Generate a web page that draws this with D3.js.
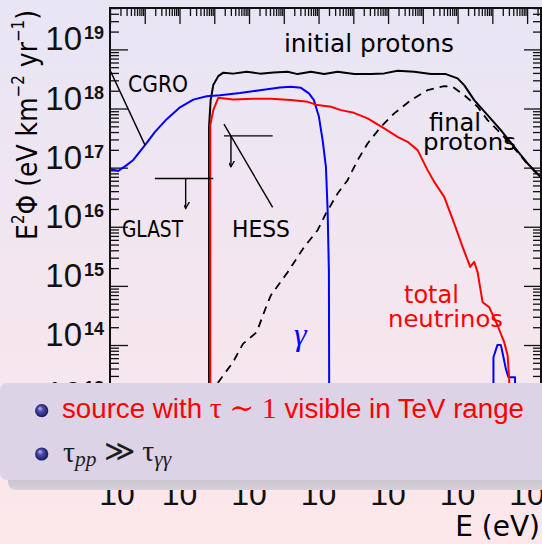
<!DOCTYPE html>
<html><head><meta charset="utf-8">
<script src="https://cdn.jsdelivr.net/npm/d3@7"></script>
<style>html,body{margin:0;padding:0;overflow:hidden;background:#fff}svg{display:block}</style>
</head><body>
<svg id="c" width="542" height="544"></svg>
<script>
// ---------- DATA (log10 E [eV], log10 E^2 Phi [eV km^-2 yr^-1]) ----------
const gammaLogE = [8.000,8.239,8.480,8.670,9.007,9.295,9.631,10.014,10.396,10.782,11.165,11.740,12.315,12.890,13.206,13.493,13.723,13.867,14.011,14.117,14.212,14.261,14.298,14.313];
const gammaLogF = [16.975,16.946,17.042,17.130,17.381,17.606,17.820,18.020,18.150,18.208,18.226,18.262,18.308,18.355,18.367,18.350,18.255,18.142,17.860,17.465,17.014,16.281,15.232,11.500];
const gammaHighLogE = [19.032,19.032,19.147,19.245,19.320,19.389,19.464,19.654,19.654];
const gammaHighLogF = [11.500,13.794,14.002,14.002,13.794,13.596,13.455,13.455,11.500];
const nuLogE = [10.885,10.885,10.971,11.115,11.538,12.113,12.630,13.206,13.686,13.973,14.356,14.644,15.017,15.411,15.889,16.274,16.562,16.850,17.137,17.327,17.615,17.902,18.144,18.363,18.478,18.576,18.719,18.909,19.151,19.341,19.439,19.485,19.520];
const nuLogF = [11.500,17.720,17.973,18.181,18.154,18.164,18.164,18.142,18.113,18.058,18.029,17.973,17.927,17.832,17.663,17.521,17.437,17.296,16.958,16.760,16.506,16.056,15.660,15.322,15.406,15.232,14.724,14.640,14.330,14.047,13.822,13.426,11.500];
const initLogE = [10.850,10.850,10.896,10.971,11.115,11.260,11.546,11.930,12.315,12.700,13.111,13.398,13.781,14.163,14.549,15.026,15.506,15.889,16.274,16.752,17.232,17.663,18.000,18.190,18.478,18.863,19.245,19.628,20.014,20.425];
const initLogF = [11.500,17.690,18.142,18.396,18.548,18.606,18.590,18.620,18.590,18.610,18.621,18.582,18.621,18.582,18.621,18.582,18.582,18.594,18.638,18.621,18.582,18.582,18.509,18.396,18.142,17.888,17.635,17.352,17.071,16.817];
const finalLogE = [10.980,11.115,11.538,11.825,12.219,12.507,12.630,13.111,13.588,13.973,14.212,14.549,14.836,15.124,15.411,15.794,16.177,16.657,17.137,17.615,17.857,18.190,18.576,18.863,19.245,19.628,20.014,20.425];
const finalLogF = [11.700,13.371,13.709,14.019,14.217,14.668,14.843,15.232,15.660,15.942,16.225,16.563,16.788,17.127,17.409,17.690,17.917,18.142,18.311,18.379,18.367,18.227,18.029,17.804,17.579,17.330,17.060,16.810];
// detector limits (log E, log E^2 Phi)
const cgroPointer = [[8.0,18.65],[9.007,17.38]];
const glastLimit = [[9.29,16.817],[10.97,16.817]];
const glastArrow = [[10.177,16.817],[10.177,16.31]];
const hessLimit = [[11.279,17.538],[12.679,17.538]];
const hessArrow = [[11.48,17.538],[11.48,17.014]];
const hessPointer = [[11.279,17.736],[12.679,16.327]];
// tick labels (exponents)
const xTickExps = [8,10,12,14,16,18,20];
const yTickExps = [12,13,14,15,16,17,18,19];
const plotLabels = ["initial protons","CGRO","GLAST","HESS","final","protons","total","neutrinos","γ"];
const bullet1 = ["source with ","τ ∼ 1"," visible in TeV range"];
const zip = (a,b)=>a.map((v,i)=>[v,b[i]]);

// ---------- LAYOUT ----------
const svg = d3.select('#c');
const L=110, R=541, T=8, B=481;
const x = d3.scaleLog().domain([1e8, 10**20.4]).range([L,R]);
const y = d3.scaleLog().domain([10**11.7, 10**19.7]).range([B,T]);
const px = d=>x(10**d[0]), py = d=>y(10**d[1]);
const line = d3.line().x(px).y(py);

const defs = svg.append('defs');
const bg = defs.append('linearGradient').attr('id','bg').attr('x1',0).attr('y1',0).attr('x2',0).attr('y2',1);
bg.append('stop').attr('offset',0).attr('stop-color','#e8e5f5');
bg.append('stop').attr('offset',1).attr('stop-color','#fde7ea');
defs.append('clipPath').attr('id','clip').append('rect').attr('x',L).attr('y',T).attr('width',R-L).attr('height',B-T);
const ball = defs.append('radialGradient').attr('id','ball').attr('cx',.5).attr('cy',.5).attr('r',.55).attr('fx',.35).attr('fy',.3);
ball.append('stop').attr('offset',0).attr('stop-color','#c4c4f4');
ball.append('stop').attr('offset',.35).attr('stop-color','#5050b4');
ball.append('stop').attr('offset',1).attr('stop-color','#12124a');
const sh = defs.append('linearGradient').attr('id','shade').attr('x1',0).attr('y1',0).attr('x2',0).attr('y2',1);
sh.append('stop').attr('offset',0).attr('stop-color','#6e6e6e');
sh.append('stop').attr('offset',0.55).attr('stop-color','#9a9a9a');
sh.append('stop').attr('offset',1).attr('stop-color','#d8d0dc');
defs.append('marker').attr('id','arr').attr('viewBox','-6 -10 12 12').attr('refX',0).attr('refY',0)
  .attr('markerWidth',12).attr('markerHeight',12).attr('markerUnits','userSpaceOnUse').attr('orient','auto-start-reverse')
  .append('path').attr('d','M-4,-7 L0,0 L4,-7').attr('fill','none').attr('stroke','#000').attr('stroke-width',1.3)
  .attr('transform','rotate(-90)');

svg.append('rect').attr('width',542).attr('height',544).attr('fill','url(#bg)');

// ---------- AXES ----------
const majX = d3.range(8,21).map(n=>10**n);
const minX = []; for(let n=8;n<=20;n++) for(let k=2;k<=9;k++){const v=k*10**n; if(v<10**20.4) minX.push(v);}
const majY = d3.range(12,20).map(n=>10**n);
const minY = []; for(let n=11;n<=19;n++) for(let k=2;k<=9;k++){const v=k*10**n; if(v>10**11.7 && v<10**19.7) minY.push(v);}
function ax(gen, tr){ const g=svg.append('g').attr('transform',tr).call(gen); g.select('.domain').remove();
  g.selectAll('line').attr('stroke','#111').attr('stroke-width',1.3); return g; }
ax(d3.axisTop(x).tickValues(majX).tickSize(-16).tickFormat(''),`translate(0,${T})`);
ax(d3.axisTop(x).tickValues(minX).tickSize(-8).tickFormat(''),`translate(0,${T})`);
ax(d3.axisBottom(x).tickValues(majX).tickSize(-16).tickFormat(''),`translate(0,${B})`);
ax(d3.axisBottom(x).tickValues(minX).tickSize(-8).tickFormat(''),`translate(0,${B})`);
ax(d3.axisLeft(y).tickValues(majY).tickSize(-18).tickFormat(''),`translate(${L},0)`);
ax(d3.axisLeft(y).tickValues(minY).tickSize(-9).tickFormat(''),`translate(${L},0)`);
ax(d3.axisRight(y).tickValues(majY).tickSize(-17).tickFormat(''),`translate(${R},0)`);
ax(d3.axisRight(y).tickValues(minY).tickSize(-8).tickFormat(''),`translate(${R},0)`);

// y tick labels
const yl = svg.append('g').attr('fill','#111');
yTickExps.forEach(n=>{
  const yy=y(10**n);
  yl.append('text').attr('x',L-28).attr('y',yy+1).attr('text-anchor','end')
    .attr('font-family','Liberation Sans, Arial, sans-serif').attr('font-size',33).text('10');
  yl.append('text').attr('x',L-26).attr('y',yy-10).attr('text-anchor','start')
    .attr('font-family','Liberation Sans, Arial, sans-serif').attr('font-weight','bold').attr('font-size',18).text(String(n));
});
// x tick labels (exponents sit behind the overlay box, as in the slide)
xTickExps.forEach((n,i)=>{
  const xx=x(10**n)+(i===0?7:0);
  yl.append('text').attr('x',xx).attr('y',505).attr('text-anchor','middle')
    .attr('font-family','Liberation Sans, Arial, sans-serif').attr('font-size',32).text('10');
  yl.append('text').attr('x',xx+17).attr('y',480).attr('text-anchor','start')
    .attr('font-family','Liberation Sans, Arial, sans-serif').attr('font-weight','bold').attr('font-size',15).text(String(n));
});

// ---------- CURVES ----------
const plot = svg.append('g').attr('clip-path','url(#clip)').attr('fill','none').attr('stroke-linejoin','round');
plot.append('path').datum(zip(finalLogE,finalLogF)).attr('d',line).attr('stroke','#000').attr('stroke-width',1.8).attr('stroke-dasharray','8,6');
plot.append('path').datum(zip(initLogE,initLogF)).attr('d',line).attr('stroke','#000').attr('stroke-width',2);
plot.append('path').datum(zip(gammaLogE,gammaLogF)).attr('d',line).attr('stroke','#0000ff').attr('stroke-width',2);
plot.append('path').datum(zip(gammaHighLogE,gammaHighLogF)).attr('d',line).attr('stroke','#0000ff').attr('stroke-width',2);
plot.append('path').datum(zip(nuLogE,nuLogF)).attr('d',line).attr('stroke','#ff0000').attr('stroke-width',2);

// detector limits
const ann = plot.append('g').attr('stroke','#000').attr('stroke-width',1.4);
[cgroPointer, glastLimit, hessLimit, hessPointer].forEach(s=>ann.append('path').datum(s).attr('d',line));
[glastArrow, hessArrow].forEach(s=>ann.append('path').datum(s).attr('d',line).attr('marker-end','url(#arr)'));

// frame
svg.append('rect').attr('x',L).attr('y',T).attr('width',R-L).attr('height',B-T).attr('fill','none').attr('stroke','#111').attr('stroke-width',2);

// ---------- TEXT LABELS ----------
const labelStyle = {
  "initial protons":{e:13.006,f:18.956,fs:25,w:170,c:'#000'},
  "CGRO":{e:8.518,f:18.279,fs:23,w:60,c:'#000'},
  "GLAST":{e:8.345,f:15.827,fs:23,w:61,c:'#000'},
  "HESS":{e:11.510,f:15.827,fs:23,w:58,c:'#000'},
  "final":{e:17.178,f:17.620,fs:24,w:52,c:'#000'},
  "protons":{e:17.005,f:17.298,fs:23,w:93,c:'#000'},
  "total":{e:16.458,f:14.711,fs:24,w:55,c:'#ff0000'},
  "neutrinos":{e:15.998,f:14.305,fs:23,w:115,c:'#ff0000'},
  "γ":{e:13.294,f:14.0,fs:32,w:0,c:'#0000ff'}
};
plotLabels.forEach(t=>{
  const s=labelStyle[t];
  const tx=svg.append('text').attr('x',x(10**s.e)).attr('y',y(10**s.f)).attr('fill',s.c).text(t);
  if(t==='γ'){ tx.attr('font-family','Liberation Serif, DejaVu Serif, serif').attr('font-style','italic').attr('font-size',s.fs); }
  else { tx.attr('font-family','DejaVu Sans, sans-serif').attr('font-size',s.fs).attr('textLength',s.w).attr('lengthAdjust','spacingAndGlyphs'); }
});
svg.append('text').attr('x',540).attr('y',536).attr('text-anchor','end').attr('font-family','DejaVu Sans, sans-serif')
  .attr('font-size',28).attr('fill','#000').text('E (eV)');

// y axis title (rotated), stretched to target length
const yt = svg.append('text').attr('font-family','DejaVu Sans, sans-serif').attr('font-size',29).attr('fill','#000').attr('text-anchor','middle');
yt.append('tspan').text('E');
yt.append('tspan').attr('font-size','0.6em').attr('dy','-0.75em').text('2');
yt.append('tspan').attr('dy','0.45em').text('Φ (eV km');
yt.append('tspan').attr('font-size','0.6em').attr('dy','-0.75em').text('−2');
yt.append('tspan').attr('dy','0.45em').text(' yr');
yt.append('tspan').attr('font-size','0.6em').attr('dy','-0.75em').text('−1');
yt.append('tspan').attr('dy','0.45em').text(')');
const ytw = yt.node().getBBox().width;
yt.attr('transform',`translate(37,125) rotate(-90) scale(${230/ytw},1)`);

// ---------- OVERLAY BOX ----------
svg.append('rect').attr('x',8).attr('y',391).attr('width',580).attr('height',99).attr('rx',8).attr('fill','url(#shade)');
svg.append('rect').attr('x',0).attr('y',383).attr('width',580).attr('height',97).attr('rx',7).attr('fill','#dcd3e7');
[410.7,454].forEach(cy=>svg.append('circle').attr('cx',41.7).attr('cy',cy).attr('r',6.6).attr('fill','url(#ball)'));
function fitW(sel,target){ const w=sel.node().getBBox().width; const fs=parseFloat(sel.attr('font-size')); sel.attr('font-size',(fs*target/w).toFixed(2)); }
const b1 = svg.append('text').attr('x',62).attr('y',417.5).attr('fill','#ff0000').attr('font-family','Liberation Sans, Arial, sans-serif').attr('font-size',27);
b1.append('tspan').text(bullet1[0]);
b1.append('tspan').attr('font-family','Liberation Serif, DejaVu Serif, serif').attr('font-size','1.08em').text(bullet1[1]);
b1.append('tspan').text(bullet1[2]);
fitW(b1,462);
const b2 = svg.append('text').attr('x',63).attr('y',461.5).attr('fill','#1c1c1c').attr('font-family','Liberation Serif, DejaVu Serif, serif').attr('font-size',31);
b2.append('tspan').text('τ');
b2.append('tspan').attr('font-style','italic').attr('font-size','0.72em').attr('dy','0.22em').text('pp');
b2.append('tspan').attr('dy','-0.16em').text(' ≫ τ');
b2.append('tspan').attr('font-style','italic').attr('font-size','0.72em').attr('dy','0.22em').text('γγ');
fitW(b2,109);
</script>
</body></html>
